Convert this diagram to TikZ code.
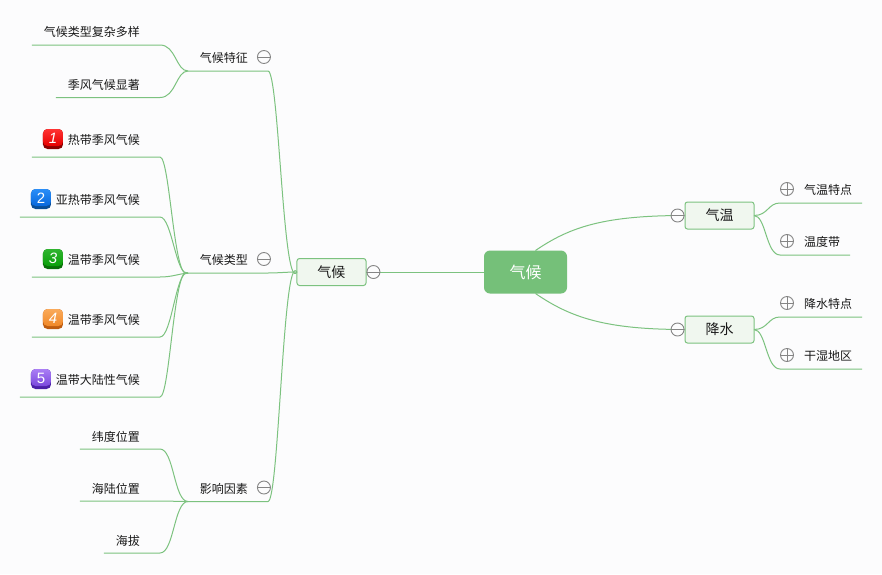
\documentclass[tikz,border=0pt]{standalone}
\usepackage{fontspec}
\setmainfont{Noto Sans CJK SC}
\newfontfamily\digitfont{Liberation Sans}
\usepackage{xcolor}
\usetikzlibrary{positioning,calc}
\definecolor{pagebg}{HTML}{FCFCFD}
\definecolor{branch}{HTML}{7CC27F}
\definecolor{rootfill}{HTML}{75C079}
\definecolor{boxfill}{HTML}{F0F7EF}
\definecolor{ring}{HTML}{858585}

\begin{document}
\begin{tikzpicture}[
    x=1pt, y=1pt,
    rootbox/.style={rectangle, rounded corners=6pt, fill=rootfill, text=white, minimum width=83pt, minimum height=43pt, outer sep=0pt, font=\fontsize{16}{16}\selectfont},
    box/.style={rectangle, rounded corners=2.5pt, draw=branch, line width=1pt, fill=boxfill, text=black!90, minimum width=69pt, minimum height=27pt, outer sep=0pt, font=\fontsize{14}{14}\selectfont},
    leaf/.style={rectangle, inner xsep=0pt, inner ysep=0pt, outer sep=0pt, align=right, minimum height=28pt, text height=12pt, text depth=1pt, text=black!90, font=\fontsize{12}{12}\selectfont, execute at end node={\hspace*{#1}}},
    link/.style={draw=branch, line width=1pt},
    toggle/.style={circle, draw=ring, line width=0.9pt, fill=pagebg, minimum size=13pt, inner sep=0pt},
    minus/.style={toggle, path picture={\draw[ring, line width=0.8pt] (path picture bounding box.west) -- (path picture bounding box.east);}},
    plus/.style={toggle, path picture={\draw[ring, line width=0.8pt] (path picture bounding box.west) -- (path picture bounding box.east) (path picture bounding box.north) -- (path picture bounding box.south);}},
    badge/.style={rectangle, rounded corners=4.5pt, minimum width=20pt, minimum height=20pt, inner sep=0pt},
    badgeface/.style={rectangle, rounded corners=4.5pt, minimum width=20pt, minimum height=17pt, inner sep=0pt, anchor=north, text=white, text height=13pt, text depth=0.3pt, font=\digitfont\fontsize{15}{15}\selectfont}
]

\useasboundingbox[fill=pagebg] (-525.5,272) rectangle (356.5,-302);

% centre and its three boxes
\node[rootbox] (root) at (0,0) {气候};
\node[box, left=118pt of root] (climate) {气候};
\node[box, right=118pt of root, yshift=56.5pt] (temp) {气温};
\node[box, right=118pt of root, yshift=-57.5pt] (rain) {降水};

% left branches
\node[leaf=20pt, left=29pt of climate, yshift=215pt, text width=80pt] (feature) {气候特征};
\node[leaf=20pt, left=29pt of climate, yshift=13pt, text width=80pt] (kind) {气候类型};
\node[leaf=20pt, left=29pt of climate, yshift=-215.5pt, text width=80pt] (factor) {影响因素};

\node[leaf=20pt, left=28pt of feature, yshift=26pt, text width=128pt] (fa) {气候类型复杂多样};
\node[leaf=20pt, left=28pt of feature, yshift=-26.5pt, text width=104pt] (fb) {季风气候显著};

\node[leaf=20pt, minimum height=36pt, left=28pt of kind, text width=128pt] (k3) {温带季风气候};
\node[leaf=20pt, minimum height=36pt, above=24pt of k3.north east, anchor=south east, text width=140pt] (k2) {亚热带季风气候};
\node[leaf=20pt, minimum height=36pt, above=24pt of k2.north east, anchor=south east, text width=128pt] (k1) {热带季风气候};
\node[leaf=20pt, minimum height=36pt, below=24pt of k3.south east, anchor=north east, text width=128pt] (k4) {温带季风气候};
\node[leaf=20pt, minimum height=36pt, below=24pt of k4.south east, anchor=north east, text width=140pt] (k5) {温带大陆性气候};

\node[leaf=20pt, minimum height=26pt, left=28pt of factor, yshift=-0.5pt, text width=80pt] (c2) {海陆位置};
\node[leaf=20pt, minimum height=26pt, above=26pt of c2.north east, anchor=south east, text width=80pt] (c1) {纬度位置};
\node[leaf=20pt, minimum height=26pt, below=26pt of c2.south east, anchor=north east, text width=56pt] (c3) {海拔};

% right branches
\node[leaf=10pt, right=26pt of temp, yshift=26.5pt, text width=82pt] (ta) {气温特点};
\node[leaf=10pt, right=26pt of temp, yshift=-25.5pt, text width=70pt] (tb) {温度带};
\node[leaf=10pt, right=26pt of rain, yshift=26.5pt, text width=82pt] (ra) {降水特点};
\node[leaf=10pt, right=26pt of rain, yshift=-25.5pt, text width=82pt] (rb) {干湿地区};

% connectors
\draw[link] (root) -- (climate);
\draw[link] ([xshift=10pt]root.north) .. controls +(35,24) and +(-80,0) .. (temp.west);
\draw[link] ([xshift=10pt]root.south) .. controls +(35,-24) and +(-80,0) .. (rain.west);

\draw[link] (feature.south west) -- (feature.south east) .. controls +(11,0) and +(-14,-22) .. (climate.west);
\draw[link] (kind.south west) -- (kind.south east) .. controls +(10,0) and +(-10,0) .. (climate.west);
\draw[link] (factor.south west) -- (factor.south east) .. controls +(11,0) and +(-14,22) .. (climate.west);

\draw[link] (fa.south west) -- (fa.south east) .. controls +(16,0) and +(-12,0) .. (feature.south west);
\draw[link] (fb.south west) -- (fb.south east) .. controls +(16,0) and +(-12,0) .. (feature.south west);

\draw[link] (k1.south west) -- (k1.south east) .. controls +(10,0) and +(-14,-12) .. (kind.south west);
\draw[link] (k2.south west) -- (k2.south east) .. controls +(12,0) and +(-12,-4) .. (kind.south west);
\draw[link] (k3.south west) -- (k3.south east) .. controls +(12,0) and +(-10,-1) .. (kind.south west);
\draw[link] (k4.south west) -- (k4.south east) .. controls +(12,0) and +(-12,4) .. (kind.south west);
\draw[link] (k5.south west) -- (k5.south east) .. controls +(10,0) and +(-14,12) .. (kind.south west);

\draw[link] (c1.south west) -- (c1.south east) .. controls +(14,0) and +(-14,0) .. (factor.south west);
\draw[link] (c2.south west) -- (c2.south east) -- (factor.south west);
\draw[link] (c3.south west) -- (c3.south east) .. controls +(14,0) and +(-14,0) .. (factor.south west);

\draw[link] (temp.east) .. controls +(14,0) and +(-12,0) .. (ta.south west) -- (ta.south east);
\draw[link] (temp.east) .. controls +(12,0) and +(-14,0) .. (tb.south west) -- (tb.south east);
\draw[link] (rain.east) .. controls +(14,0) and +(-12,0) .. (ra.south west) -- (ra.south east);
\draw[link] (rain.east) .. controls +(12,0) and +(-14,0) .. (rb.south west) -- (rb.south east);

% toggles
\node[minus, right=0.5pt of climate] (tclimate) {};
\node[minus, left=0.5pt of temp] (ttemp) {};
\node[minus, left=0.5pt of rain] (train) {};
\node[minus, right=-11pt of feature] (tfeature) {};
\node[minus, right=-11pt of kind] (tkind) {};
\node[minus, right=-11pt of factor] (tfactor) {};
\node[plus] (pta) at ([xshift=7pt]ta.west) {};
\node[plus] (ptb) at ([xshift=7pt]tb.west) {};
\node[plus] (pra) at ([xshift=7pt]ra.west) {};
\node[plus] (prb) at ([xshift=7pt]rb.west) {};

% numbered badges
\node[badge, fill=red!55!black] (b1) at ([xshift=21pt]k1.west) {};
\node[badgeface, top color=red!80!white, bottom color=red!90!black] at (b1.north) {\itshape 1};
\node[badge, fill={rgb,255:red,10;green,78;blue,150}] (b2) at ([xshift=21pt]k2.west) {};
\node[badgeface, top color={rgb,255:red,42;green,142;blue,248}, bottom color={rgb,255:red,8;green,104;blue,220}] at (b2.north) {2};
\node[badge, fill={rgb,255:red,8;green,112;blue,8}] (b3) at ([xshift=21pt]k3.west) {};
\node[badgeface, top color={rgb,255:red,48;green,180;blue,48}, bottom color={rgb,255:red,10;green,160;blue,10}] at (b3.north) {\itshape 3};
\node[badge, fill={rgb,255:red,190;green,92;blue,16}] (b4) at ([xshift=21pt]k4.west) {};
\node[badgeface, top color={rgb,255:red,250;green,170;blue,90}, bottom color={rgb,255:red,240;green,136;blue,40}] at (b4.north) {\itshape 4};
\node[badge, fill={rgb,255:red,75;green,32;blue,168}] (b5) at ([xshift=21pt]k5.west) {};
\node[badgeface, top color={rgb,255:red,170;green,126;blue,245}, bottom color={rgb,255:red,122;green,72;blue,220}] at (b5.north) {5};

\end{tikzpicture}
\end{document}
